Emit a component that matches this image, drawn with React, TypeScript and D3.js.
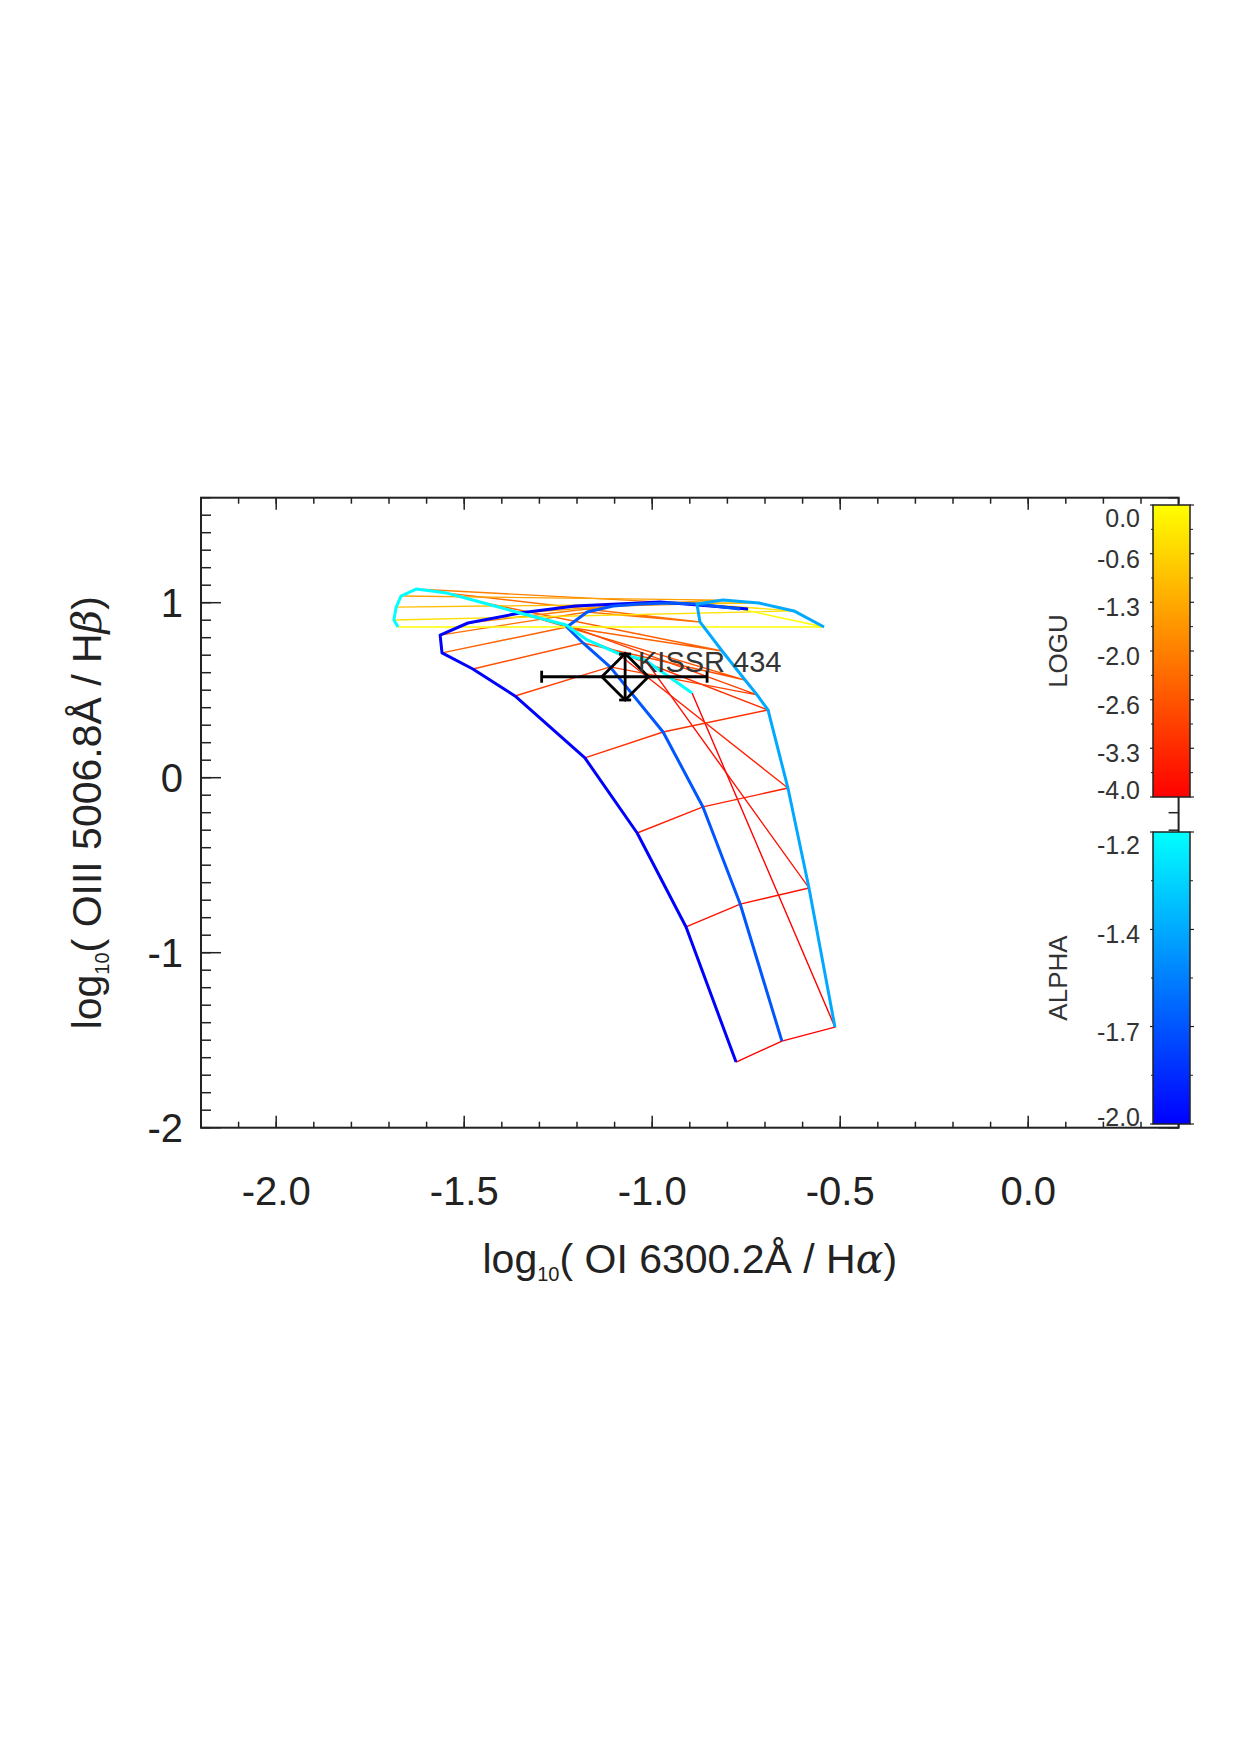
import React from "react";
import * as d3 from "d3";

// model grid: log U rows (bottom to top) and alpha columns
const logU = [-4, -3.75, -3.5, -3.25, -3, -2.75, -2.5, -2.25, -2, -1.5, -1, -0.5, 0];
const alphas = [-2.0, -1.73, -1.47, -1.2];

// [log OI/Ha, log OIII/Hb] for each logU, one list per alpha
const gridA200: [number, number][] = [
  [-0.777, -1.625], [-0.910, -0.853], [-1.040, -0.316], [-1.179, 0.113], [-1.365, 0.467],
  [-1.477, 0.621], [-1.559, 0.713], [-1.564, 0.815], [-1.490, 0.884], [-1.352, 0.941],
  [-1.205, 0.981], [-0.979, 1.004], [-0.745, 0.964],
];
const gridA173: [number, number][] = [
  [-0.655, -1.505], [-0.766, -0.722], [-0.865, -0.167], [-0.971, 0.261], [-1.112, 0.633],
  [-1.184, 0.770], [-1.227, 0.861], [-1.173, 0.947], [-1.104, 0.981], [-1.032, 0.993],
  [-0.953, 0.998], [-0.881, 0.993], [-0.766, 0.964],
];
const gridA147: [number, number][] = [
  [-0.514, -1.425], [-0.583, -0.630], [-0.639, -0.059], [-0.692, 0.387], [-0.721, 0.473],
  [-0.753, 0.558], [-0.814, 0.724], [-0.873, 0.890], [-0.881, 0.993], [-0.812, 1.015],
  [-0.716, 0.998], [-0.623, 0.953], [-0.543, 0.861],
];
const gridA120: [number, number][] = [
  [-0.894, 0.484], [-1.019, 0.673], [-1.094, 0.713], [-1.173, 0.787], [-1.229, 0.873],
  [-1.352, 0.941], [-1.458, 1.004], [-1.546, 1.055], [-1.628, 1.078], [-1.668, 1.038],
  [-1.681, 0.975], [-1.687, 0.901], [-1.676, 0.861],
];

// observed object
const objName = "KISSR 434";
const objX = -1.072;
const objY = 0.577;
const objXErr = [-1.294, -0.854];
const objYErr = [0.444, 0.707];

const xTickLabels = ["-2.0", "-1.5", "-1.0", "-0.5", "0.0"];
const yTickLabels = ["-2", "-1", "0", "1"];
const uBarTicks = [0, -0.667, -1.333, -2, -2.667, -3.333, -4];
const uBarLabels = ["0.0", "-0.6", "-1.3", "-2.0", "-2.6", "-3.3", "-4.0"];
const aBarTicks = [-1.2, -1.467, -1.733, -2.0];
const aBarLabels = ["-1.2", "-1.4", "-1.7", "-2.0"];

const font = "'Liberation Sans', Arial, Helvetica, sans-serif";
const ink = "#222";

export default function App() {
  const x = d3.scaleLinear().domain([-2.2, 0.4]).range([201, 1178.6]);
  const y = d3.scaleLinear().domain([-2, 1.6]).range([1127.7, 497.7]);
  const line = d3.line<[number, number]>().x(d => x(d[0])).y(d => y(d[1]));

  const uColor = (u: number) => d3.interpolateRgb("#ff0000", "#ffff00")((u + 4) / 4);
  const aColor = (a: number) => d3.interpolateRgb("#0000ff", "#00ffff")((a + 2) / 0.8);

  const series = [gridA200, gridA173, gridA147, gridA120];
  const rungs = logU.map((u, i) => ({ u, pts: series.map(s => s[i]) }));

  const [x0, x1] = x.range();
  const [y0, y1] = y.range(); // bottom, top

  const xMinor = d3.range(-2.2, 0.4001, 0.1);
  const xMajor = [-2, -1.5, -1, -0.5, 0];
  const yMinor = d3.range(-2, 1.6001, 0.1);
  const yMajor = [-2, -1, 0, 1];

  const cbX0 = 1153, cbX1 = 1190;
  const cbU = d3.scaleLinear().domain([0, -4]).range([505, 797]);
  const cbA = d3.scaleLinear().domain([-1.2, -2.0]).range([832, 1124]);

  const colorbar = (
    id: string,
    sc: d3.ScaleLinear<number, number>,
    ticks: number[],
    labels: string[],
    title: string,
    top: string,
    bottom: string
  ) => {
    const [t, b] = sc.range();
    const mids = ticks.slice(1).map((v, i) => (v + ticks[i]) / 2);
    return (
      <g>
        <defs>
          <linearGradient id={id} x1="0" y1="0" x2="0" y2="1">
            <stop offset="0" stopColor={top} />
            <stop offset="1" stopColor={bottom} />
          </linearGradient>
        </defs>
        <rect x={cbX0} y={t} width={cbX1 - cbX0} height={b - t} fill={`url(#${id})`} stroke={ink} strokeWidth={1.5} />
        {ticks.map((v, i) => (
          <g key={"t" + i}>
            <line x1={cbX1} x2={cbX1 + 4} y1={sc(v)} y2={sc(v)} stroke={ink} strokeWidth={1.2} />
            <line x1={cbX0 - 3} x2={cbX0} y1={sc(v)} y2={sc(v)} stroke={ink} strokeWidth={1.2} />
          </g>
        ))}
        {mids.map((v, i) => (
          <g key={"m" + i}>
            <line x1={cbX1} x2={cbX1 + 3} y1={sc(v)} y2={sc(v)} stroke={ink} strokeWidth={1} />
            <line x1={cbX0 - 2} x2={cbX0} y1={sc(v)} y2={sc(v)} stroke={ink} strokeWidth={1} />
          </g>
        ))}
        {ticks.map((v, i) => {
          const cy = Math.max(t + 13, Math.min(b - 7, sc(v) + 5));
          return (
            <text key={"l" + i} x={1140} y={cy + 9} textAnchor="end" fontSize={25} fill="#333" fontFamily={font}>
              {labels[i]}
            </text>
          );
        })}
        <text transform={`translate(1067,${(t + b) / 2}) rotate(-90)`} textAnchor="middle" fontSize={26} fill="#333" fontFamily={font}>
          {title}
        </text>
      </g>
    );
  };

  const ox = x(objX), oy = y(objY);
  const d = 23.3;

  return (
    <svg width={1240} height={1755} style={{ position: "absolute", left: 0, top: 0, background: "#fff" }}>
      <rect width={1240} height={1755} fill="#fff" />

      {/* logU tracks */}
      {rungs.map((r, i) => (
        <path key={"u" + i} d={line(r.pts) || ""} fill="none" stroke={uColor(r.u)} strokeWidth={1.4} />
      ))}

      {/* alpha tracks */}
      {series.map((s, i) => (
        <path key={"a" + i} d={line(s) || ""} fill="none" stroke={aColor(alphas[i])} strokeWidth={3} strokeLinejoin="round" />
      ))}

      {/* object with error bars */}
      <g stroke="#000" strokeWidth={2.8} fill="none">
        <line x1={x(objXErr[0])} x2={x(objXErr[1])} y1={oy} y2={oy} />
        <line x1={x(objXErr[0])} x2={x(objXErr[0])} y1={oy - 6} y2={oy + 6} />
        <line x1={x(objXErr[1])} x2={x(objXErr[1])} y1={oy - 6} y2={oy + 6} />
        <line x1={ox} x2={ox} y1={y(objYErr[1])} y2={y(objYErr[0])} />
        <line x1={ox - 6} x2={ox + 6} y1={y(objYErr[1])} y2={y(objYErr[1])} />
        <line x1={ox - 6} x2={ox + 6} y1={y(objYErr[0])} y2={y(objYErr[0])} />
        <path d={`M${ox - d},${oy}L${ox},${oy - d}L${ox + d},${oy}L${ox},${oy + d}Z`} />
      </g>
      <text x={638} y={672} fontSize={29} fill="#333" fontFamily={font}>{objName}</text>

      {/* frame and ticks */}
      <rect x={x0} y={y1} width={x1 - x0} height={y0 - y1} fill="none" stroke={ink} strokeWidth={2} />
      {xMinor.map((v, i) => (
        <g key={"xm" + i} stroke={ink} strokeWidth={1.5}>
          <line x1={x(v)} x2={x(v)} y1={y0} y2={y0 - 6} />
          <line x1={x(v)} x2={x(v)} y1={y1} y2={y1 + 6} />
        </g>
      ))}
      {xMajor.map((v, i) => (
        <g key={"xM" + i} stroke={ink} strokeWidth={1.5}>
          <line x1={x(v)} x2={x(v)} y1={y0} y2={y0 - 12} />
          <line x1={x(v)} x2={x(v)} y1={y1} y2={y1 + 12} />
        </g>
      ))}
      {yMinor.map((v, i) => (
        <g key={"ym" + i} stroke={ink} strokeWidth={1.5}>
          <line x1={x0} x2={x0 + 10} y1={y(v)} y2={y(v)} />
          <line x1={x1} x2={x1 - 10} y1={y(v)} y2={y(v)} />
        </g>
      ))}
      {yMajor.map((v, i) => (
        <g key={"yM" + i} stroke={ink} strokeWidth={1.5}>
          <line x1={x0} x2={x0 + 20} y1={y(v)} y2={y(v)} />
          <line x1={x1} x2={x1 - 20} y1={y(v)} y2={y(v)} />
        </g>
      ))}
      {xMajor.map((v, i) => (
        <text key={"xl" + i} x={x(v)} y={1205} textAnchor="middle" fontSize={40} fill={ink} fontFamily={font}>
          {xTickLabels[i]}
        </text>
      ))}
      {yMajor.map((v, i) => (
        <text key={"yl" + i} x={183} y={y(v) + 14} textAnchor="end" fontSize={40} fill={ink} fontFamily={font}>
          {yTickLabels[i]}
        </text>
      ))}

      {/* axis titles */}
      <text x={(x0 + x1) / 2} y={1273} textAnchor="middle" fontSize={41} fill={ink} fontFamily={font}>
        log<tspan fontSize={20} dy={8}>10</tspan>
        <tspan dy={-8}>( OI 6300.2Å / H</tspan>
        <tspan fontStyle="italic" fontFamily="'DejaVu Serif', serif">α</tspan>)
      </text>
      <text transform={`translate(101,${(y0 + y1) / 2}) rotate(-90)`} textAnchor="middle" fontSize={41} fill={ink} fontFamily={font}>
        log<tspan fontSize={20} dy={8}>10</tspan>
        <tspan dy={-8}>( OIII 5006.8Å / H</tspan>
        <tspan fontStyle="italic" fontFamily="'DejaVu Serif', serif">β</tspan>)
      </text>

      {colorbar("gU", cbU, uBarTicks, uBarLabels, "LOGU", "#ffff00", "#ff0000")}
      {colorbar("gA", cbA, aBarTicks, aBarLabels, "ALPHA", "#00ffff", "#0000ff")}
    </svg>
  );
}
